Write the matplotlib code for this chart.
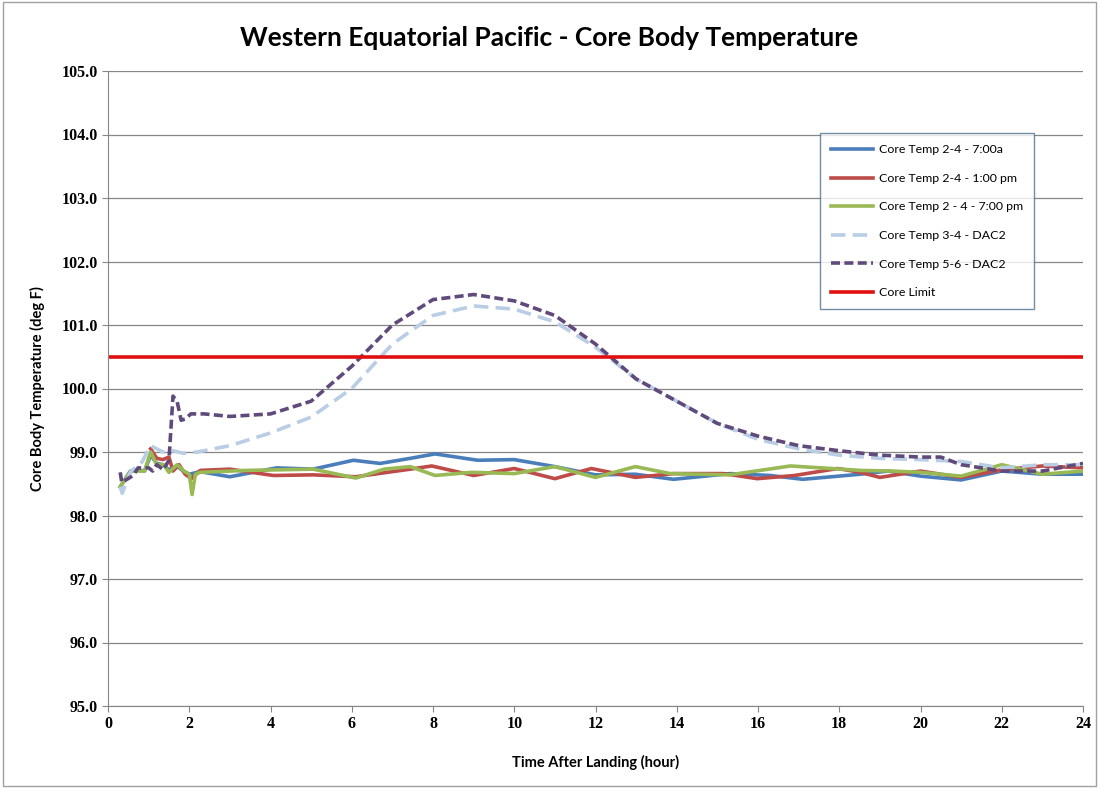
import matplotlib
matplotlib.use('Agg')
import matplotlib.pyplot as plt
from matplotlib.patches import Rectangle

# hours after landing / core temperature (deg F)
t_a = [0.3, 0.4, 0.55, 0.7, 0.9, 1.05, 1.2, 1.35, 1.5, 1.7, 1.85, 2.0, 2.27, 3.0, 4.15, 5.05,
       6.04, 6.7, 7.44, 8.05, 9.1, 10.0, 11.0, 12.0, 12.98, 13.92, 15.32, 16.3, 17.1, 18.52,
       19.2, 20.0, 21.0, 22.0, 23.0, 24.0]
temp_a = [98.45, 98.55, 98.7, 98.72, 98.7, 98.95, 98.82, 98.8, 98.72, 98.78, 98.7, 98.65, 98.69,
          98.61, 98.75, 98.73, 98.87, 98.82, 98.9, 98.97, 98.87, 98.88, 98.77, 98.64, 98.65,
          98.57, 98.66, 98.63, 98.57, 98.65, 98.7, 98.62, 98.56, 98.7, 98.65, 98.65]

t_b = [1.05, 1.2, 1.35, 1.5, 1.6, 1.75, 1.9, 2.05, 2.27, 3.0, 4.07, 5.05, 6.1, 7.44, 7.97, 9.0,
       10.0, 11.0, 11.9, 12.98, 13.92, 15.15, 15.98, 16.9, 17.96, 18.52, 19.0, 20.0, 21.0,
       22.0, 23.0, 24.0]
temp_b = [99.05, 98.9, 98.88, 98.92, 98.7, 98.8, 98.65, 98.58, 98.71, 98.73, 98.63, 98.64, 98.61,
          98.73, 98.78, 98.63, 98.74, 98.58, 98.74, 98.6, 98.66, 98.66, 98.58, 98.63, 98.74,
          98.68, 98.6, 98.7, 98.6, 98.72, 98.78, 98.75]

t_c = [0.3, 0.4, 0.56, 0.9, 1.05, 1.2, 1.37, 1.5, 1.7, 1.87, 2.0, 2.07, 2.15, 2.27, 3.4, 5.05,
       6.1, 6.8, 7.44, 8.05, 8.95, 10.0, 11.0, 12.0, 12.98, 13.84, 15.3, 16.8, 17.8, 18.52,
       19.3, 20.0, 21.0, 22.0, 23.0, 24.0]
temp_c = [98.45, 98.55, 98.7, 98.7, 99.0, 98.8, 98.8, 98.68, 98.8, 98.7, 98.65, 98.33, 98.65,
          98.68, 98.71, 98.73, 98.59, 98.73, 98.77, 98.63, 98.68, 98.66, 98.77, 98.6, 98.77,
          98.66, 98.64, 98.78, 98.74, 98.71, 98.7, 98.68, 98.62, 98.8, 98.65, 98.7]

t_d = [0.3, 0.35, 0.56, 0.8, 1.05, 1.35, 1.6, 1.85, 2.2, 3.0, 4.0, 5.0, 6.0, 7.0, 8.0, 9.0, 10.0,
       11.0, 12.0, 13.0, 14.0, 15.0, 16.0, 17.0, 18.0, 19.0, 20.0, 21.0, 22.0, 23.0, 24.0]
temp_d = [98.45, 98.35, 98.7, 98.8, 99.1, 99.0, 99.02, 98.98, 99.0, 99.1, 99.3, 99.55, 100.0,
          100.7, 101.15, 101.3, 101.25, 101.05, 100.65, 100.15, 99.8, 99.45, 99.2, 99.05, 98.95,
          98.9, 98.88, 98.85, 98.75, 98.8, 98.8]

t_e = [0.3, 0.34, 0.62, 0.74, 1.0, 1.1, 1.2, 1.36, 1.5, 1.6, 1.7, 1.8, 1.9, 2.04, 2.37, 3.0, 4.0,
       5.0, 6.0, 7.0, 8.0, 9.0, 10.0, 11.0, 12.0, 13.0, 14.0, 15.0, 16.0, 17.0, 18.0, 19.0,
       20.0, 20.5, 21.0, 22.0, 23.0, 24.0]
temp_e = [98.68, 98.52, 98.63, 98.75, 98.75, 98.7, 98.8, 98.72, 98.87, 99.88, 99.8, 99.5, 99.52,
          99.6, 99.6, 99.56, 99.6, 99.8, 100.35, 101.0, 101.4, 101.48, 101.38, 101.15, 100.7,
          100.15, 99.8, 99.45, 99.25, 99.1, 99.02, 98.95, 98.92, 98.92, 98.8, 98.7, 98.7, 98.82]

core_limit = 100.5
limit_x = [0, 24]

series = [
    ("Core Temp 2-4 - 7:00a", t_a, temp_a, "#4A7EBB", "-"),
    ("Core Temp 2-4 - 1:00 pm", t_b, temp_b, "#BE4B48", "-"),
    ("Core Temp 2 - 4 - 7:00 pm", t_c, temp_c, "#98B954", "-"),
    ("Core Temp 3-4 - DAC2", t_d, temp_d, "#B9CDE5", (0, (4, 2))),
    ("Core Temp 5-6 - DAC2", t_e, temp_e, "#604A7B", (0, (2.5, 1.2))),
]

plt.rcParams['font.family'] = ['Lato', 'DejaVu Sans']

fig = plt.figure(figsize=(10.99, 7.88), dpi=100)
ax = fig.add_axes([108 / 1099, 1 - 706 / 788, 975 / 1099, 635 / 788])

fig.patches.append(Rectangle((0.003, 0.003), 0.994, 0.994, transform=fig.transFigure,
                             fill=False, edgecolor='#A0A0A0', linewidth=1))

for label, x, y, color, ls in series:
    ax.plot(x, y, color=color, linestyle=ls, linewidth=2.6, label=label,
            solid_joinstyle='round', dash_joinstyle='round')
ax.plot(limit_x, [core_limit, core_limit], color='#E01010', linewidth=2.6, label='Core Limit')

ax.set_xlim(0, 24)
ax.set_ylim(95, 105)
ax.set_xticks(range(0, 25, 2))
ax.set_yticks(range(95, 106))
ax.set_yticklabels([f"{v:.1f}" for v in range(95, 106)])
ax.tick_params(labelsize=11.5, color='#868686', length=4)
for lbl in ax.get_xticklabels() + ax.get_yticklabels():
    lbl.set_fontweight('bold')
    lbl.set_family(['Liberation Serif', 'DejaVu Serif'])
ax.grid(axis='y', color='#868686', linewidth=0.9)
ax.set_axisbelow(True)
for s in ['top', 'right']:
    ax.spines[s].set_visible(False)
for s in ['left', 'bottom']:
    ax.spines[s].set_color('#868686')

ax.set_xlabel('Time After Landing (hour)', fontsize=10.5, fontweight='bold', labelpad=16)
ax.set_ylabel('Core Body Temperature (deg F)', fontsize=10.5, fontweight='bold', labelpad=12)
fig.text(0.5, 1 - 38 / 788, 'Western Equatorial Pacific - Core Body Temperature',
         ha='center', va='center', fontsize=19, fontweight='bold')

leg = ax.legend(loc='upper left', bbox_to_anchor=(0.73, 0.902), fontsize=8.9,
                frameon=True, fancybox=False, borderpad=0.9, labelspacing=1.42,
                handlelength=3.4, handletextpad=0.5, borderaxespad=0)
leg.get_frame().set_edgecolor('#4F6F8F')
leg.get_frame().set_linewidth(1)

fig.savefig('out.png', dpi=100)
